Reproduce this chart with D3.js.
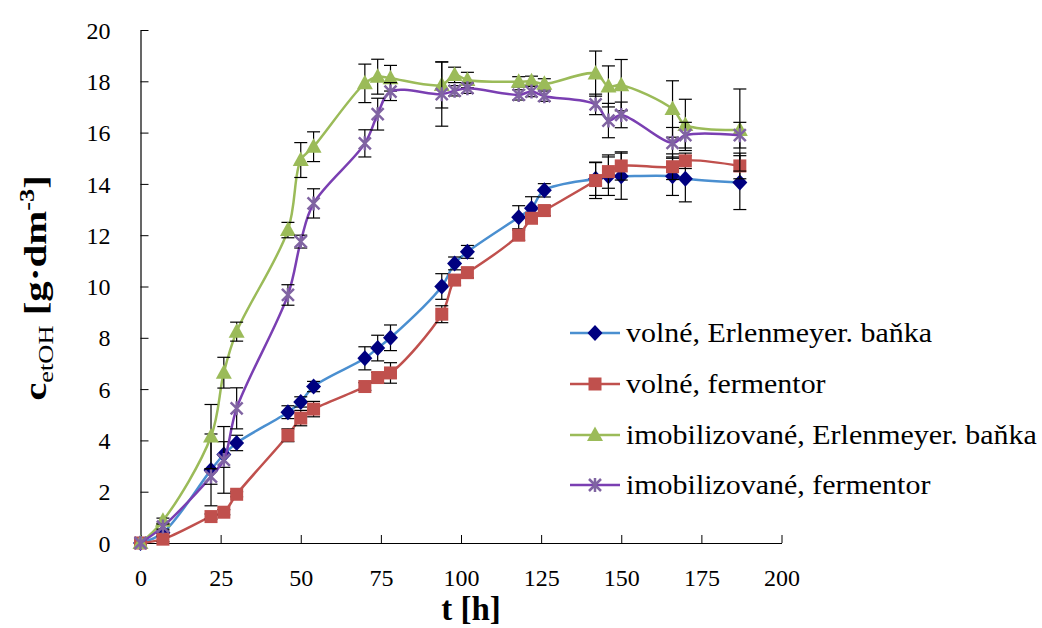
<!DOCTYPE html>
<html>
<head>
<meta charset="utf-8">
<script src="https://cdn.jsdelivr.net/npm/d3@7"></script>
<style>
  html, body { margin: 0; padding: 0; background: #fff; }
  svg { display: block; font-family: "Liberation Serif", "Times New Roman", serif; }
</style>
</head>
<body>
<svg id="chart" width="1042" height="628"></svg>
<script>
// ---- data ----
const times = [0, 7, 22, 26, 30, 46, 50, 54, 70, 74, 78, 94, 98, 102, 118, 122, 126, 142, 146, 150, 166, 170, 187];

const seriesNames = [
  "volné, Erlenmeyer. baňka",
  "volné, fermentor",
  "imobilizované, Erlenmeyer. baňka",
  "imobilizované, fermentor"
];

const volneErlen = [0, 0.4, 2.85, 3.45, 3.9, 5.1, 5.5, 6.1, 7.2, 7.6, 8.0, 10.0, 10.9, 11.35, 12.7, 13.05, 13.75, 14.2, 14.3, 14.3, 14.3, 14.2, 14.05];
const volneErlenErr = [0, 0.1, 1.4, 0.5, 0.3, 0.25, 0.2, 0.2, 0.45, 0.5, 0.5, 0.5, 0.25, 0.25, 0.45, 0.45, 0.26, 0.65, 0.75, 0.9, 0.75, 0.9, 1.05];

const volneFerm = [0, 0.15, 1.03, 1.2, 1.9, 4.2, 4.87, 5.22, 6.1, 6.45, 6.63, 8.92, 10.25, 10.54, 12.0, 12.66, 12.96, 14.13, 14.48, 14.7, 14.67, 14.9, 14.7];
const volneFermErr = [0, 0.1, 0.1, 0.1, 0.1, 0.25, 0.3, 0.3, 0.15, 0.2, 0.4, 0.33, 0.2, 0.2, 0.2, 0.2, 0.2, 0.7, 0.65, 0.55, 0.5, 0.3, 0.5];

const imobErlen = [0, 0.87, 4.15, 6.64, 8.24, 12.2, 14.93, 15.45, 17.92, 18.18, 18.12, 17.86, 18.25, 18.05, 17.98, 18.0, 17.9, 18.3, 17.8, 17.85, 16.92, 16.3, 16.1];
const imobErlenErr = [0, 0.1, 1.25, 0.6, 0.37, 0.3, 0.68, 0.58, 0.75, 0.68, 0.5, 0.9, 0.3, 0.3, 0.2, 0.2, 0.2, 0.88, 0.8, 1.0, 1.1, 1.0, 1.6];

const imobFerm = [0, 0.64, 2.59, 3.24, 5.25, 9.67, 11.75, 13.24, 15.58, 16.72, 17.6, 17.5, 17.63, 17.73, 17.47, 17.6, 17.42, 17.1, 16.47, 16.69, 15.6, 15.9, 15.9];
const imobFermErr = [0, 0.1, 0.3, 1.3, 0.8, 0.4, 0.25, 0.57, 0.53, 0.62, 0.35, 1.25, 0.2, 0.2, 0.2, 0.2, 0.2, 0.4, 0.67, 0.5, 0.6, 0.5, 0.5];

const xTicks = [0, 25, 50, 75, 100, 125, 150, 175, 200];
const yTicks = [0, 2, 4, 6, 8, 10, 12, 14, 16, 18, 20];

// ---- layout ----
const svg = d3.select("#chart");
const mLeft = 140.5, mRight = 781.5, mTop = 30, mBottom = 543;
const x = d3.scaleLinear().domain([0, 200]).range([mLeft, mRight]);
const y = d3.scaleLinear().domain([0, 20]).range([mBottom, mTop]);

const series = [
  { name: seriesNames[0], v: volneErlen, e: volneErlenErr, line: "#4a8fd0", fill: "#000080", sym: "diamond" },
  { name: seriesNames[1], v: volneFerm, e: volneFermErr, line: "#c0504d", fill: "#c0504d", sym: "square" },
  { name: seriesNames[2], v: imobErlen, e: imobErlenErr, line: "#9bbb59", fill: "#9bbb59", sym: "triangle" },
  { name: seriesNames[3], v: imobFerm, e: imobFermErr, line: "#7a3fb2", fill: "#8064a2", sym: "x" }
];

function drawMarker(g, sym, cx, cy, fill) {
  if (sym === "diamond") {
    g.append("path").attr("d", `M${cx},${cy-8}L${cx+7.5},${cy}L${cx},${cy+8}L${cx-7.5},${cy}Z`).attr("fill", fill);
  } else if (sym === "square") {
    g.append("rect").attr("x", cx-6.5).attr("y", cy-6.5).attr("width", 13).attr("height", 13).attr("fill", fill);
  } else if (sym === "triangle") {
    g.append("path").attr("d", `M${cx},${cy-8.5}L${cx+8},${cy+6}L${cx-8},${cy+6}Z`).attr("fill", fill);
  } else {
    const s = 6;
    g.append("path").attr("d", `M${cx-s},${cy-s}L${cx+s},${cy+s}M${cx-s},${cy+s}L${cx+s},${cy-s}M${cx},${cy-s-1}L${cx},${cy+s+1}`)
      .attr("stroke", fill).attr("stroke-width", 2.5).attr("fill", "none");
  }
}

// axes
const xAxis = d3.axisBottom(x).tickValues(xTicks).tickSizeInner(-8).tickSizeOuter(0).tickPadding(26);
const gx = svg.append("g").attr("transform", `translate(0,${mBottom})`).call(xAxis);
const yAxis = d3.axisLeft(y).tickValues(yTicks).tickSizeInner(-8).tickSizeOuter(0).tickPadding(30);
const gy = svg.append("g").attr("transform", `translate(${mLeft},0)`).call(yAxis);
[gx, gy].forEach(g => {
  g.attr("font-family", null).attr("font-size", null);
  g.selectAll("path.domain").attr("stroke", "#000").attr("stroke-width", 1.2);
  g.selectAll(".tick line").attr("stroke", "#000").attr("stroke-width", 1);
  g.selectAll(".tick text").attr("font-family", "'Liberation Serif', serif").attr("font-size", 24).attr("fill", "#000");
});
gy.selectAll(".tick text").attr("dy", "0.34em");

// series
const lineGen = d3.line().x(d => x(d[0])).y(d => y(d[1])).curve(d3.curveCatmullRom.alpha(0.5));
series.forEach(s => {
  const g = svg.append("g");
  const pts = times.map((t, i) => [t, s.v[i]]);
  g.append("path").datum(pts).attr("d", lineGen).attr("fill", "none")
    .attr("stroke", s.line).attr("stroke-width", 2.5);
  // error bars
  times.forEach((t, i) => {
    if (!s.e[i]) return;
    const cx = x(t), y1 = y(s.v[i] + s.e[i]), y2 = y(s.v[i] - s.e[i]);
    g.append("line").attr("x1", cx).attr("x2", cx).attr("y1", y1).attr("y2", y2).attr("stroke", "#000").attr("stroke-width", 1.2);
    [y1, y2].forEach(yy => g.append("line").attr("x1", cx-6.5).attr("x2", cx+6.5).attr("y1", yy).attr("y2", yy).attr("stroke", "#000").attr("stroke-width", 1.2));
  });
  times.forEach((t, i) => drawMarker(g, s.sym, x(t), y(s.v[i]), s.fill));
});

// legend
const legY = [333, 384, 435, 485];
series.forEach((s, i) => {
  const g = svg.append("g");
  g.append("line").attr("x1", 570).attr("x2", 620).attr("y1", legY[i]).attr("y2", legY[i]).attr("stroke", s.line).attr("stroke-width", 2.5);
  drawMarker(g, s.sym, 595, legY[i], s.fill);
  g.append("text").attr("transform", `translate(626,${legY[i]}) scale(1.07,1)`).attr("dy", "0.33em")
    .attr("font-size", 28).attr("fill", "#000").text(s.name);
});

// axis titles
svg.append("text").attr("x", 471).attr("y", 620).attr("text-anchor", "middle")
  .attr("font-size", 33).attr("font-weight", "bold").text("t [h]");

const yt = svg.append("text").attr("transform", `translate(46,288) rotate(-90) scale(1.32,1)`)
  .attr("text-anchor", "middle").attr("font-size", 31);
yt.append("tspan").attr("font-weight", "bold").text("c");
yt.append("tspan").attr("font-size", 20).attr("dy", 7).text("etOH");
yt.append("tspan").attr("font-weight", "bold").attr("dy", -7).text(" [g·dm");
yt.append("tspan").attr("font-size", 20).attr("font-weight", "bold").attr("dy", -12).text("-3");
yt.append("tspan").attr("font-weight", "bold").attr("dy", 12).text("]");
</script>
</body>
</html>
